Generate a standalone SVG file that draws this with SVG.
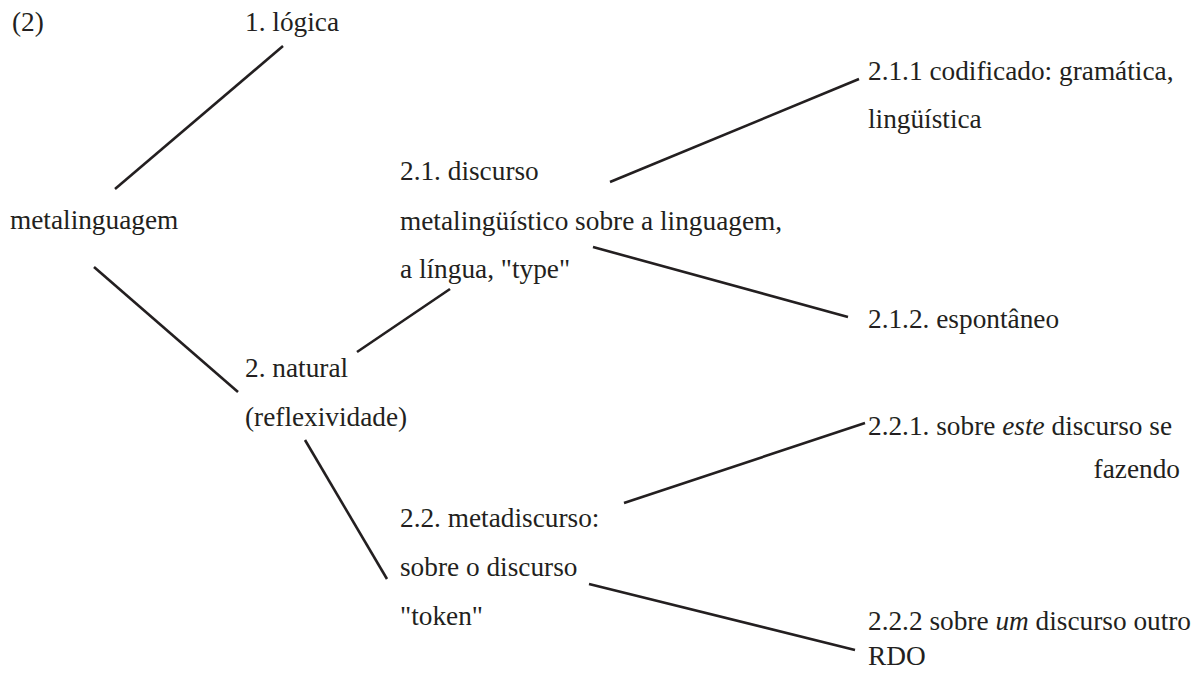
<svg xmlns="http://www.w3.org/2000/svg" width="1194" height="678" viewBox="0 0 1194 678">
<style>
.t { font-size: 27.3px; fill: #231f20; }
.it { font-style: italic; }
.edge { stroke: #231f20; stroke-width: 2.6; stroke-linecap: butt; fill: none; }
</style>
<rect width="1194" height="678" fill="#ffffff"/>
<g id="connectors">
  <line class="edge" x1="115" y1="189" x2="283" y2="46"/>
  <line class="edge" x1="94" y1="267" x2="238" y2="392"/>
  <line class="edge" x1="357" y1="352" x2="450" y2="289"/>
  <line class="edge" x1="305" y1="440" x2="387" y2="579"/>
  <line class="edge" x1="610" y1="182" x2="859" y2="79"/>
  <line class="edge" x1="593" y1="247" x2="848" y2="317"/>
  <line class="edge" x1="624" y1="503" x2="865" y2="423"/>
  <line class="edge" x1="589" y1="584" x2="855" y2="650"/>
</g>
<g class="t" font-family="Liberation Serif, Times New Roman, DejaVu Serif, serif">
<g id="label-2"><text x="12" y="31">(2)</text></g>
<g id="node-logica"><text x="245" y="31">1. lógica</text></g>
<g id="node-metalinguagem"><text x="10" y="229">metalinguagem</text></g>
<g id="node-2-1">
  <text x="400" y="180">2.1. discurso</text>
  <text x="400" y="230">metalingüístico sobre a linguagem,</text>
  <text x="400" y="278">a língua, "type"</text>
</g>
<g id="node-2-1-1">
  <text x="868" y="80">2.1.1 codificado: gramática,</text>
  <text x="868" y="128">lingüística</text>
</g>
<g id="node-2-1-2"><text x="868" y="328">2.1.2. espontâneo</text></g>
<g id="node-2-natural">
  <text x="245" y="377">2. natural</text>
  <text x="245" y="426">(reflexividade)</text>
</g>
<g id="node-2-2">
  <text x="400" y="527">2.2. metadiscurso:</text>
  <text x="400" y="576">sobre o discurso</text>
  <text x="400" y="625">"token"</text>
</g>
<g id="node-2-2-1">
  <text x="868" y="435">2.2.1. sobre <tspan class="it">este</tspan> discurso se</text>
  <text x="1180" y="478" text-anchor="end">fazendo</text>
</g>
<g id="node-2-2-2">
  <text x="868" y="630">2.2.2 sobre <tspan class="it">um</tspan> discurso outro</text>
  <text x="868" y="665">RDO</text>
</g>
</g>
</svg>
